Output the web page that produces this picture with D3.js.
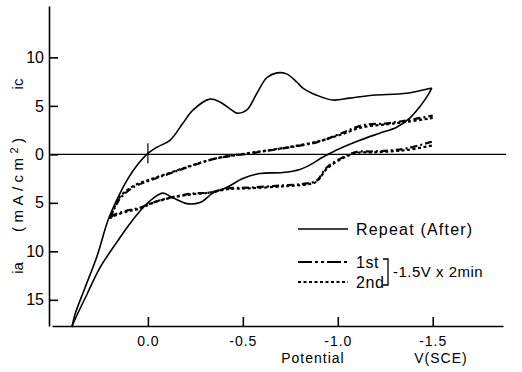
<!DOCTYPE html>
<html>
<head>
<meta charset="utf-8">
<script src="https://cdn.jsdelivr.net/npm/d3@7"></script>
<style>
  body { margin: 0; background: #fff; }
  text { font-family: "Liberation Sans", Arial, sans-serif; fill: #000; }
</style>
</head>
<body>
<svg id="chart" width="522" height="372"></svg>
<script>
// tick values: potential in V vs SCE, current in mA/cm2 (cathodic up, anodic down)
const xTicks = [0, -0.5, -1.0, -1.5]
const yTicks = [10, 5, 0, -5, -10, -15]

// "Repeat (After)" loop, [potential, current]
const repeatForward = [
  [0.40, -17.8], [0.384, -16.5], [0.332, -13.8], [0.268, -10.5], [0.21, -6.8],
  [0.158, -4.46], [0.105, -2.5], [0.06, -1.2], [0.0, 0.1], [-0.047, 0.73],
  [-0.116, 1.45], [-0.184, 3.2], [-0.237, 4.56], [-0.326, 5.7], [-0.379, 5.4],
  [-0.442, 4.56], [-0.468, 4.25], [-0.52, 4.56], [-0.574, 6.3], [-0.626, 7.9],
  [-0.679, 8.4], [-0.73, 8.3], [-0.784, 7.46], [-0.816, 6.84], [-0.889, 6.1],
  [-0.974, 5.6], [-1.063, 5.8], [-1.184, 6.1], [-1.363, 6.3], [-1.495, 6.84]
]
const repeatReverse = [
  [-1.495, 6.84], [-1.468, 5.9], [-1.43, 4.87], [-1.379, 3.73], [-1.31, 2.8],
  [-1.22, 2.18], [-1.116, 1.45], [-1.026, 0.73], [-0.968, 0.2], [-0.92, -0.3],
  [-0.868, -0.93], [-0.8, -1.55], [-0.71, -1.87], [-0.59, -1.97], [-0.5, -2.5],
  [-0.416, -3.4], [-0.342, -4.0], [-0.274, -4.97], [-0.205, -5.08], [-0.13, -4.46],
  [-0.079, -4.0], [-0.026, -4.56], [0.026, -5.5], [0.095, -7.15], [0.158, -8.9],
  [0.253, -11.7], [0.32, -14.4], [0.395, -17.5], [0.40, -17.8]
]

// after -1.5 V x 2 min, 1st and 2nd sweeps
const firstForward = [
  [0.2, -6.63], [0.174, -5.5], [0.147, -4.56], [0.079, -3.42], [-0.01, -2.7],
  [-0.116, -1.97], [-0.237, -1.14], [-0.363, -0.41], [-0.537, 0.1], [-0.71, 0.62],
  [-0.889, 1.24], [-1.01, 2.1], [-1.13, 3.0], [-1.258, 3.2], [-1.363, 3.5], [-1.5, 4.0]
]
const firstReverse = [
  [-1.495, 1.3], [-1.363, 0.62], [-1.274, 0.41], [-1.184, 0.3], [-1.1, 0.25],
  [-1.026, -0.31], [-0.942, -1.35], [-0.889, -2.7], [-0.837, -3.0], [-0.71, -3.2],
  [-0.537, -3.42], [-0.416, -3.52], [-0.326, -3.94], [-0.237, -4.04], [-0.116, -4.46],
  [-0.026, -4.97], [0.042, -5.5], [0.11, -5.8], [0.184, -6.3], [0.2, -6.63]
]
const secondForward = [
  [0.2, -6.6], [0.175, -5.4], [0.148, -4.4], [0.08, -3.3], [-0.01, -2.6],
  [-0.116, -1.9], [-0.237, -1.1], [-0.363, -0.4], [-0.537, 0.15], [-0.71, 0.65],
  [-0.889, 1.3], [-1.01, 2.0], [-1.13, 2.8], [-1.258, 3.1], [-1.363, 3.35], [-1.5, 3.75]
]
const secondReverse = [
  [-1.495, 0.9], [-1.363, 0.45], [-1.274, 0.3], [-1.184, 0.2], [-1.1, 0.15],
  [-1.026, -0.4], [-0.942, -1.5], [-0.889, -2.8], [-0.837, -3.1], [-0.71, -3.3],
  [-0.537, -3.5], [-0.416, -3.6], [-0.326, -3.95], [-0.237, -4.1], [-0.116, -4.5],
  [-0.026, -5.0], [0.042, -5.6], [0.11, -5.9], [0.184, -6.4], [0.2, -6.6]
]

const svg = d3.select('#chart')
const x = d3.scaleLinear().domain([0.505, -1.87]).range([52, 503])
const y = d3.scaleLinear().domain([15.3, -17.7]).range([6, 326])

// axes
const yAxis = svg.append('g')
  .attr('transform', 'translate(49,0)')
  .call(d3.axisLeft(y).tickValues(yTicks).tickSizeInner(-9).tickSizeOuter(0)
    .tickPadding(5).tickFormat((d) => Math.abs(d)))
yAxis.selectAll('text').style('font-size', '16px')

const xAxis = svg.append('g')
  .attr('transform', `translate(0,${y.range()[1]})`)
  .call(d3.axisBottom(x).tickValues(xTicks).tickSizeInner(-9).tickSizeOuter(0)
    .tickPadding(10).tickFormat((d) => (d === 0 ? '0.0' : '-' + d3.format('.1f')(-d))))
xAxis.selectAll('text').style('font-size', '14px').attr('letter-spacing', 1)

svg.selectAll('.domain, .tick line').attr('stroke', '#000').attr('stroke-width', 1.6)

// zero line with its small mark at 0.0 V
svg.append('line')
  .attr('x1', 49).attr('x2', 506).attr('y1', y(0)).attr('y2', y(0))
  .attr('stroke', '#000').attr('stroke-width', 1.2)
svg.append('line')
  .attr('x1', x(0)).attr('x2', x(0)).attr('y1', y(0) - 11).attr('y2', y(0) + 9)
  .attr('stroke', '#000').attr('stroke-width', 1.2)

// axis titles
const yTitle = (txt, cy, len) => {
  const t = svg.append('text')
    .attr('transform', `translate(23,${cy}) rotate(-90)`)
    .attr('text-anchor', 'middle').style('font-size', '15px').text(txt)
  if (len) t.attr('textLength', len).attr('lengthAdjust', 'spacing')
  return t
}
yTitle('ic', 84)
const unit = yTitle('', 185, 94)
unit.append('tspan').text('(mA/cm')
unit.append('tspan').attr('dy', -5).style('font-size', '11px').text('2')
unit.append('tspan').attr('dy', 5).text(')')
yTitle('ia', 268)

svg.append('text').attr('x', 313).attr('y', 363).attr('text-anchor', 'middle')
  .style('font-size', '14px').attr('letter-spacing', 1).text('Potential')
svg.append('text').attr('x', 441).attr('y', 363).attr('text-anchor', 'middle')
  .style('font-size', '14px').attr('letter-spacing', 1).text('V(SCE)')

// curves
const line = d3.line().x((d) => x(d[0])).y((d) => y(d[1])).curve(d3.curveCatmullRom)
const styles = {
  repeat: { width: 1.6, dash: null },
  first: { width: 2.2, dash: '7,3,2,3' },
  second: { width: 2.2, dash: '3,2.5' },
}
const curves = [
  ['first', firstForward], ['first', firstReverse],
  ['second', secondForward], ['second', secondReverse],
  ['repeat', repeatForward], ['repeat', repeatReverse],
]
svg.selectAll('path.cv')
  .data(curves)
  .join('path')
  .attr('class', 'cv')
  .attr('d', (d) => line(d[1]))
  .attr('fill', 'none')
  .attr('stroke', '#000')
  .attr('stroke-width', (d) => styles[d[0]].width)
  .attr('stroke-dasharray', (d) => styles[d[0]].dash)

// legend
const legend = [
  ['repeat', 'Repeat (After)', 229],
  ['first', '1st', 262],
  ['second', '2nd', 282],
]
legend.forEach(([key, label, ly]) => {
  svg.append('line').attr('x1', 298).attr('x2', 348).attr('y1', ly).attr('y2', ly)
    .attr('stroke', '#000').attr('stroke-width', styles[key].width)
    .attr('stroke-dasharray', key === 'first' ? '14,3,3,3,3,3' : styles[key].dash)
  svg.append('text').attr('x', 356).attr('y', ly + 6).style('font-size', '16px')
    .attr('letter-spacing', key === 'repeat' ? 1.2 : 0.6).text(label)
})
svg.append('path')
  .attr('d', 'M383,259H388V285H383')
  .attr('fill', 'none').attr('stroke', '#000').attr('stroke-width', 1.3)
svg.append('text').attr('x', 393).attr('y', 277).style('font-size', '15px')
  .attr('letter-spacing', 0.5).text('-1.5V x 2min')
</script>
</body>
</html>
